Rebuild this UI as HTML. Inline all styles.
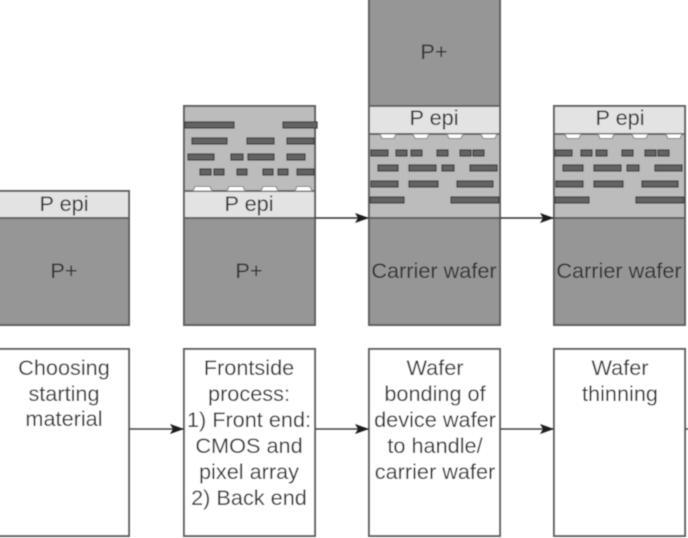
<!DOCTYPE html>
<html>
<head>
<meta charset="utf-8">
<style>
html,body{margin:0;padding:0;background:#fff;width:688px;height:538px;overflow:hidden}
svg{display:block}
text{font-family:"Liberation Sans",sans-serif;font-size:21.7px;fill:#333;text-anchor:middle}
.o{stroke:#606060;stroke-width:2}
.m{fill:#646464;stroke:#3a3a3a;stroke-width:1.2}
.c{fill:#fff;stroke:#808080;stroke-width:1}
.a{fill:#1c1c1c}
</style>
</head>
<body>
<svg width="688" height="538" viewBox="0 0 688 538" xmlns="http://www.w3.org/2000/svg">
<defs>
<filter id="b" x="-2%" y="-2%" width="104%" height="104%"><feGaussianBlur stdDeviation="0.5"/></filter>
</defs>
<rect width="688" height="538" fill="#fff"/>
<g filter="url(#b)">
<!-- column 1 -->
<rect class="o" x="-2" y="191" width="131" height="27" fill="#e3e3e3"/>
<rect class="o" x="-2" y="218" width="131" height="107" fill="#969696"/>
<text x="64" y="211">P epi</text>
<text x="64" y="278">P+</text>

<!-- column 2 -->
<rect class="o" x="184" y="106" width="131" height="85" fill="#bcbcbc"/>
<rect class="o" x="184" y="191" width="131" height="27" fill="#e3e3e3"/>
<rect class="o" x="184" y="218" width="131" height="107" fill="#969696"/>
<g class="m">
<rect x="185" y="122" width="49" height="6"/><rect x="283" y="122" width="34" height="6"/>
<rect x="192" y="138" width="35" height="6"/><rect x="247" y="138" width="27" height="6"/><rect x="287" y="138" width="27" height="6"/>
<rect x="188" y="154" width="26" height="6"/><rect x="231" y="154" width="12" height="6"/><rect x="248" y="154" width="26" height="6"/><rect x="287" y="154" width="18" height="6"/>
<rect x="200" y="169" width="11" height="6"/><rect x="214" y="169" width="10" height="6"/><rect x="237" y="169" width="10" height="6"/><rect x="263" y="169" width="10" height="6"/><rect x="278" y="169" width="10" height="6"/><rect x="297" y="169" width="17" height="6"/>
</g>
<g class="c">
<path d="M193 191l2-4.500h15l2 4.500zM227 191l2-4.500h14l2 4.500zM261 191l2-4.500h13l2 4.500zM295 191l2-4.500h13l2 4.500z"/>
</g>
<text x="249" y="211">P epi</text>
<text x="249" y="278">P+</text>

<!-- column 3 -->
<rect class="o" x="369" y="-2" width="131" height="108" fill="#969696"/>
<rect class="o" x="369" y="134" width="131" height="84" fill="#bcbcbc"/>
<rect class="o" x="369" y="106" width="131" height="28" fill="#e3e3e3"/>
<rect class="o" x="369" y="218" width="131" height="107" fill="#969696"/>
<g class="c">
<path d="M380 134l2 4.500h12l2-4.500zM413 134l2 4.500h12l2-4.500zM447 134l2 4.500h12l2-4.500zM481 134l2 4.500h12l2-4.500z"/>
</g>
<g class="m">
<rect x="371" y="150" width="17" height="6"/><rect x="396" y="150" width="11" height="6"/><rect x="411" y="150" width="11" height="6"/><rect x="437" y="150" width="11" height="6"/><rect x="460" y="150" width="11" height="6"/><rect x="473" y="150" width="11" height="6"/>
<rect x="378" y="165" width="20" height="6"/><rect x="409" y="165" width="27" height="6"/><rect x="442" y="165" width="12" height="6"/><rect x="470" y="165" width="27" height="6"/>
<rect x="371" y="181" width="27" height="6"/><rect x="409" y="181" width="29" height="6"/><rect x="457" y="181" width="36" height="6"/>
<rect x="370" y="197" width="34" height="6"/><rect x="451" y="197" width="48" height="6"/>
</g>
<text x="434" y="59">P+</text>
<text x="434" y="125">P epi</text>
<text x="434" y="278">Carrier wafer</text>

<!-- column 4 -->
<rect class="o" x="554" y="134" width="131" height="84" fill="#bcbcbc"/>
<rect class="o" x="554" y="106" width="131" height="28" fill="#e3e3e3"/>
<rect class="o" x="554" y="218" width="131" height="107" fill="#969696"/>
<g class="c">
<path d="M565 134l2 4.500h12l2-4.500zM598 134l2 4.500h12l2-4.500zM632 134l2 4.500h12l2-4.500zM666 134l2 4.500h12l2-4.500z"/>
</g>
<g class="m">
<rect x="555" y="150" width="17" height="6"/><rect x="581" y="150" width="11" height="6"/><rect x="596" y="150" width="11" height="6"/><rect x="622" y="150" width="11" height="6"/><rect x="645" y="150" width="11" height="6"/><rect x="658" y="150" width="11" height="6"/>
<rect x="563" y="165" width="20" height="6"/><rect x="594" y="165" width="27" height="6"/><rect x="627" y="165" width="12" height="6"/><rect x="655" y="165" width="27" height="6"/>
<rect x="556" y="181" width="27" height="6"/><rect x="594" y="181" width="29" height="6"/><rect x="642" y="181" width="36" height="6"/>
<rect x="555" y="197" width="34" height="6"/><rect x="636" y="197" width="48" height="6"/>
</g>
<text x="620" y="125">P epi</text>
<text x="619" y="278">Carrier wafer</text>

<!-- upper arrows -->
<path d="M315 218H369M500 218H554" stroke="#333" stroke-width="1.6" fill="none"/>
<path class="a" d="M369 218l-14-5 3 5-3 5zM554 218l-14-5 3 5-3 5z"/>

<!-- lower boxes -->
<g fill="#fff" stroke="#606060" stroke-width="2">
<rect x="-2" y="349" width="131" height="187"/>
<rect x="184" y="349" width="131" height="187"/>
<rect x="369" y="349" width="131" height="187"/>
<rect x="554" y="349" width="131" height="187"/>
</g>

<text x="64" y="375">Choosing</text>
<text x="64" y="401">starting</text>
<text x="64" y="426">material</text>

<text x="249" y="375">Frontside</text>
<text x="249" y="401">process:</text>
<text x="249" y="427">1) Front end:</text>
<text x="249" y="453">CMOS and</text>
<text x="249" y="479">pixel array</text>
<text x="249" y="505">2) Back end</text>

<text x="435" y="375">Wafer</text>
<text x="435" y="401">bonding of</text>
<text x="435" y="427">device wafer</text>
<text x="435" y="453">to handle/</text>
<text x="435" y="479">carrier wafer</text>

<text x="620" y="375">Wafer</text>
<text x="620" y="401">thinning</text>

<!-- lower arrows -->
<path d="M129 429H184M315 429H369M500 429H554M685 429H688" stroke="#444" stroke-width="1.6" fill="none"/>
<path class="a" d="M184 429l-14-5 3 5-3 5zM369 429l-14-5 3 5-3 5zM554 429l-14-5 3 5-3 5z"/>
</g>
</svg>
</body>
</html>
